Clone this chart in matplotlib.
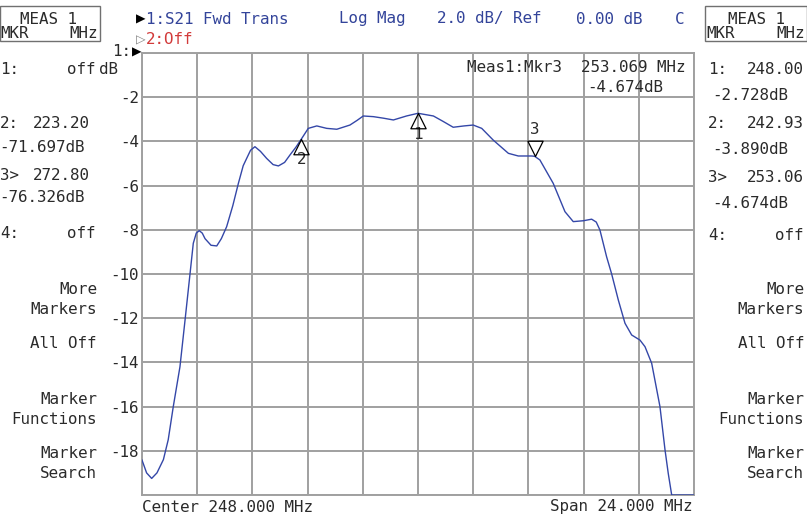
import numpy as np
import matplotlib as mpl
mpl.use("Agg")
import matplotlib.pyplot as plt
from matplotlib.path import Path

# trace (MHz, dB)
freq = [236.00, 236.20, 236.42, 236.65, 236.93, 237.14, 237.36, 237.65, 237.87,
        238.09, 238.23, 238.36, 238.49, 238.62, 238.74, 239.00, 239.25, 239.45,
        239.68, 239.95, 240.19, 240.40, 240.55, 240.72, 240.91, 241.15, 241.42,
        241.70, 241.93, 242.20, 242.43, 242.70, 242.93, 243.23, 243.60, 244.03,
        244.47, 245.04, 245.35, 245.62, 246.06, 246.50, 246.93, 247.50, 248.00,
        248.67, 249.10, 249.53, 250.00, 250.40, 250.77, 251.27, 251.93, 252.36,
        252.94, 253.07, 253.30, 253.88, 254.39, 254.75, 255.19, 255.55, 255.75,
        255.91, 256.20, 256.42, 256.71, 257.00, 257.29, 257.65, 257.87, 258.16,
        258.30, 258.52, 258.74, 258.88, 259.03, 260.00]
mag = [-18.42, -19.00, -19.25, -19.00, -18.40, -17.50, -16.00, -14.20, -12.10,
       -9.97, -8.61, -8.15, -8.04, -8.15, -8.40, -8.70, -8.73, -8.40,
       -7.86, -6.90, -5.90, -5.10, -4.77, -4.40, -4.24, -4.45, -4.77,
       -5.05, -5.11, -4.95, -4.62, -4.25, -3.89, -3.41, -3.30, -3.41,
       -3.45, -3.26, -3.05, -2.85, -2.88, -2.95, -3.03, -2.85, -2.728,
       -2.85, -3.10, -3.36, -3.30, -3.26, -3.41, -3.94, -4.54, -4.66,
       -4.66, -4.674, -4.84, -5.90, -7.18, -7.63, -7.59, -7.52, -7.65,
       -8.01, -9.22, -10.00, -11.18, -12.23, -12.76, -12.99, -13.29, -14.04,
       -14.80, -16.00, -17.96, -19.02, -20.00, -20.00]

mkr_freq = [248.00, 242.93, 253.069]
mkr_mag = [-2.728, -3.890, -4.674]
mkr_names = ["1", "2", "3"]

left_rows = [("1:", "off", 69), ("2:", "223.20", 124), ("", "-71.697dB", 147),
             ("3>", "272.80", 176), ("", "-76.326dB", 198), ("4:", "off", 234)]
right_rows = [("1:", "248.00", 69), ("", "-2.728dB", 96), ("2:", "242.93", 124),
              ("", "-3.890dB", 150), ("3>", "253.06", 178), ("", "-4.674dB", 203),
              ("4:", "off", 235)]
soft_keys = [("More", 289), ("Markers", 310), ("All Off", 344), ("Marker", 399),
             ("Functions", 420), ("Marker", 454), ("Search", 474)]

W, H = 807, 519
MONO = ["DejaVu Sans Mono", "DejaVu Sans"]
FS = 11.4
BLUE = "#33449a"
TRACE = "#3447a8"
INK = "#2a2a2a"

fig = plt.figure(figsize=(W / 100, H / 100), dpi=100)
fig.patch.set_facecolor("white")

def T(x, y, s, **kw):
    kw.setdefault("family", MONO)
    kw.setdefault("fontsize", FS)
    kw.setdefault("va", "center")
    kw.setdefault("color", INK)
    fig.text(x / W, 1 - y / H, s, **kw)

x0, x1, y0, y1 = 142, 694, 53, 495
ax = fig.add_axes([x0 / W, 1 - y1 / H, (x1 - x0) / W, (y1 - y0) / H])
ax.set_xlim(236, 260)
ax.set_ylim(-20, 0)
ax.set_xticks(236 + 2.4 * np.arange(11))
ax.set_yticks(-2.0 * np.arange(11))
ax.set_yticklabels([""] + [str(-2 * i) for i in range(1, 10)] + [""])
ax.set_xticklabels([])
ax.tick_params(length=0, pad=2, labelsize=FS, labelcolor=INK)
for lab in ax.get_yticklabels():
    lab.set_family(MONO)
ax.grid(True, color="#a0a0a0", lw=1.4)
for sp in ax.spines.values():
    sp.set_color("#a0a0a0")
    sp.set_linewidth(1.4)

ax.plot(freq, mag, color=TRACE, lw=1.0, clip_on=True, zorder=3)

up = Path([(0, 0), (-0.5, -1), (0.5, -1), (0, 0)])
down = Path([(0, 0), (-0.5, 1), (0.5, 1), (0, 0)])
for f, m, n in zip(mkr_freq, mkr_mag, mkr_names):
    if n == "3":
        ax.plot(f, m, marker=down, ms=22, mfc="none", mec="black", mew=0.9, zorder=4)
        ax.annotate(n, (f, m), xytext=(0, 19), textcoords="offset points",
                    ha="center", va="center", family=MONO, fontsize=FS, color=INK)
    else:
        ax.plot(f, m, marker=up, ms=22, mfc="none", mec="black", mew=0.9, zorder=4)
        ax.annotate(n, (f, m), xytext=(0, -15), textcoords="offset points",
                    ha="center", va="center", family=MONO, fontsize=FS, color=INK)

ax.text(0.9855, 0.968, "Meas1:Mkr3  253.069 MHz", transform=ax.transAxes,
        ha="right", va="center", family=MONO, fontsize=FS, color=INK)
ax.text(0.945, 0.922, "-4.674dB", transform=ax.transAxes,
        ha="right", va="center", family=MONO, fontsize=FS, color=INK)

# header lines
T(136, 19, "\u25b6", color="black", fontsize=FS - 2.5, family=["DejaVu Sans"])
T(146, 19, "1:S21 Fwd Trans", color=BLUE)
T(339, 19, "Log Mag", color=BLUE)
T(437, 19, "2.0 dB/ Ref", color=BLUE)
T(576, 19, "0.00 dB", color=BLUE)
T(675, 19, "C", color=BLUE)
T(136, 40, "\u25b7", color="#808080", fontsize=FS - 2.5, family=["DejaVu Sans"])
T(146, 40, "2:Off", color="#d23a3a")

T(131, 52, "1:", ha="right")
T(132, 52, "\u25b6", color="black", fontsize=FS - 2.5, family=["DejaVu Sans"])
T(118, 70, "dB", ha="right")

T(142, 507, "Center 248.000 MHz")
T(692, 507, "Span 24.000 MHz", ha="right")

# side panels
for bx, bw in [(0, 100), (705, 102)]:
    fig.patches.append(mpl.patches.Rectangle((bx / W, 1 - 41 / H), bw / W, 35 / H,
                       transform=fig.transFigure, fill=False, ec="#707070", lw=1))
T(49, 19, "MEAS 1", ha="center")
T(0, 33, "MKR")
T(98, 33, "MHz", ha="right")
T(757, 19, "MEAS 1", ha="center")
T(706, 33, "MKR")
T(805, 33, "MHz", ha="right")

for lab, val, y in left_rows:
    if lab:
        T(0, y, lab)
        T(95 if val == "off" else 90, y, val, ha="right")
    else:
        T(-1, y, val)
for lab, val, y in right_rows:
    if lab:
        T(708, y, lab)
        T(804, y, val, ha="right")
    else:
        T(712, y, val)
for s, y in soft_keys:
    T(97, y, s, ha="right")
    T(804, y, s, ha="right")

fig.savefig("out.png", dpi=100)
